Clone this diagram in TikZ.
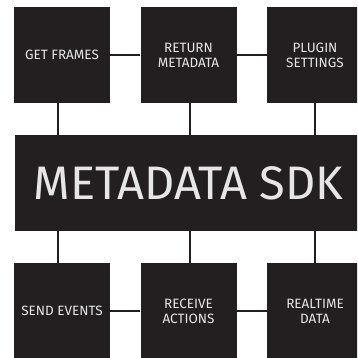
\documentclass[tikz,border=0pt]{standalone}
\usepackage{fontspec}
\setmainfont{Fira Sans}
\usetikzlibrary{positioning}
\definecolor{boxblack}{HTML}{231F20}
\definecolor{boxtext}{HTML}{E6E6E6}
\tikzset{
node distance=128pt and 126.5pt, % centre to centre, boxes are on a grid
block/.style={rectangle, fill=boxblack, text=boxtext, minimum size=96pt, inner sep=0pt,
  align=center, font=\fontsize{13.5}{15}\selectfont},
sdkblock/.style={block, minimum width=348pt, font=\fontsize{47}{50}\selectfont},
link/.style={draw=boxblack, line width=2.6pt},
on grid
}

\begin{document}
\begin{tikzpicture}
   \clip (0,0) rectangle (357pt,-358pt);
   \node[block] (get) at (62pt,-55pt) {GET FRAMES};
   \node[block] (ret)  [right=of get] {RETURN\\METADATA};
   \node[block] (plug) [right=of ret] {PLUGIN\\SETTINGS};
   \node[sdkblock] (sdk) [below=of ret] {METADATA SDK};
   \node[block] (send) [below=256pt of get] {SEND EVENTS};
   \node[block] (recv) [below=of sdk] {RECEIVE\\ACTIONS};
   \node[block] (real) [below=256pt of plug] {REALTIME\\DATA};
   \path[link]
    (get)  edge (ret)
    (ret)  edge (plug)
    (send) edge (recv)
    (recv) edge (real);
   % links up and down to the sdk
   \foreach \b/\dx in {get/-4pt, ret/1.5pt, plug/0pt}
     \draw[link] ([xshift=\dx]\b.south) -- ([xshift=\dx]\b.south |- sdk.north);
   \foreach \b/\dx in {send/-4pt, recv/1.5pt, real/0pt}
     \draw[link] ([xshift=\dx]\b.north) -- ([xshift=\dx]\b.north |- sdk.south);
\end{tikzpicture}
\end{document}
